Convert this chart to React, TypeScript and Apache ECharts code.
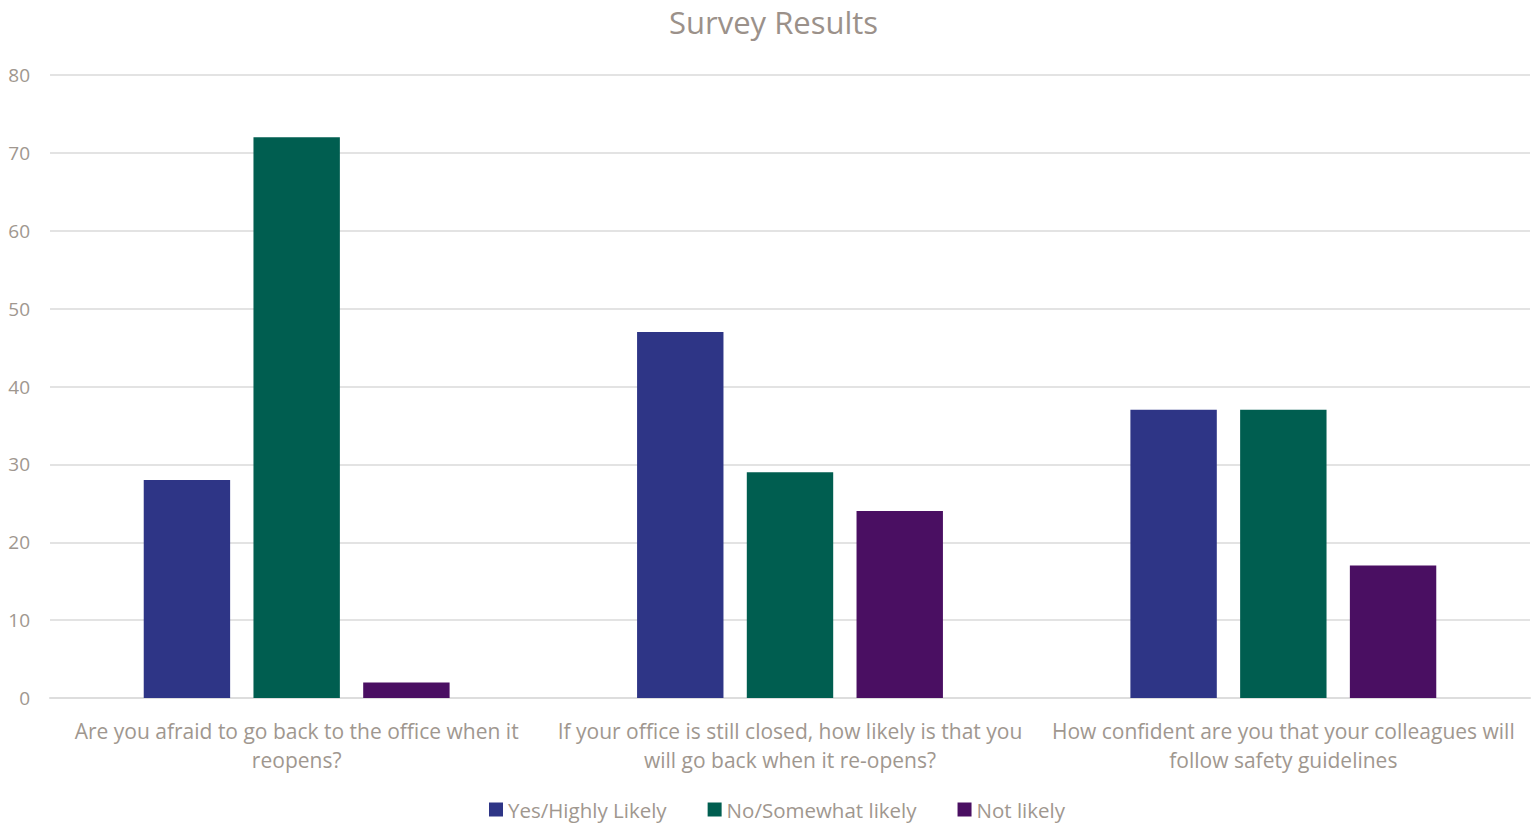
import React, { useEffect, useRef } from "react";
import * as echarts from "echarts";

const categories = [
  "Are you afraid to go back to the office when it\nreopens?",
  "If your office is still closed, how likely is that you\nwill go back when it re-opens?",
  "How confident are you that your colleagues will\nfollow safety guidelines",
];
const seriesNames = ["Yes/Highly Likely", "No/Somewhat likely", "Not likely"];
const yesValues = [28, 47, 37];
const noValues = [72, 29, 37];
const notValues = [2, 24, 17];
const colors = ["#2E3586", "#005E50", "#4A0F62"];

const textColor = "#A0978F";
const font = "'Open Sans', Lato, sans-serif";

export default function App() {
  const ref = useRef<HTMLDivElement>(null);
  useEffect(() => {
    if (!ref.current) return;
    const chart = echarts.init(ref.current, undefined, { renderer: "svg" });
    const data = [yesValues, noValues, notValues];
    chart.setOption({
      animation: false,
      title: {
        text: "Survey Results",
        left: 664,
        top: 1,
        textStyle: { color: "#9B918A", fontSize: 31, fontWeight: "normal", fontFamily: font },
      },
      legend: {
        bottom: 3,
        left: 484,
        itemWidth: 14,
        itemHeight: 14,
        itemGap: 41,
        icon: "rect",
        textStyle: { color: textColor, fontSize: 20.5, fontFamily: font },
        data: seriesNames,
      },
      grid: { left: 50, right: 2, top: 75, bottom: 130 },
      xAxis: {
        type: "category",
        data: categories,
        axisTick: { show: false },
        axisLine: { lineStyle: { color: "#DDDDDD", width: 2 } },
        axisLabel: {
          color: textColor,
          fontSize: 21,
          fontFamily: font,
          lineHeight: 29,
          margin: 18,
          interval: 0,
        },
      },
      yAxis: {
        type: "value",
        min: 0,
        max: 80,
        interval: 10,
        axisLabel: { color: textColor, fontSize: 19, fontFamily: font, margin: 20 },
        splitLine: { lineStyle: { color: "#E3E3E3", width: 2 } },
        axisLine: { show: false },
        axisTick: { show: false },
      },
      series: seriesNames.map((name, i) => ({
        name,
        type: "bar",
        data: data[i],
        barGap: "27%",
        barCategoryGap: "38%",
        itemStyle: { color: colors[i] },
      })),
    });
    return () => chart.dispose();
  }, []);
  return (
    <div
      ref={ref}
      style={{ position: "fixed", left: 0, top: 0, width: 1532, height: 828, background: "#fff" }}
    />
  );
}
